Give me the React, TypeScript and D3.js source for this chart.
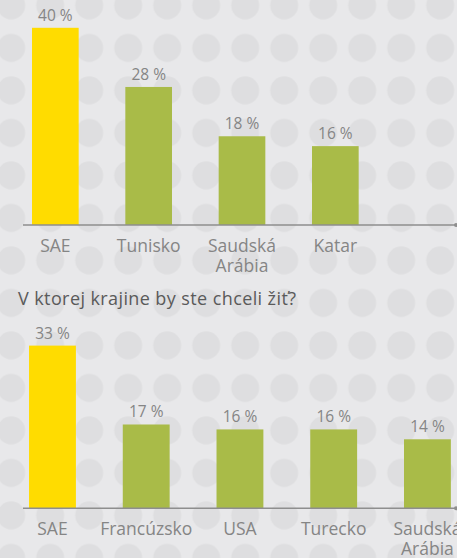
import React from "react";
import * as d3 from "d3";

const W = 457;
const H = 558;

const cats1 = ["SAE", "Tunisko", "Saudská Arábia", "Katar"];
const vals1 = [40, 28, 18, 16];
const cats2 = ["SAE", "Francúzsko", "USA", "Turecko", "Saudská Arábia"];
const vals2 = [33, 17, 16, 16, 14];
const highlight = "SAE";
const title2 = "V ktorej krajine by ste chceli žiť?";

const YELLOW = "#FFDC00";
const GREEN = "#A9BB48";
const BG = "#E8E8EA";
const DOT = "#DEDEE0";
const AXIS = "#8E8E8E";
const TXT = "#858585";
const FONT = "'Open Sans', sans-serif";

function Chart({ cats, vals, range, base, ppu }: { cats: string[]; vals: number[]; range: [number, number]; base: number; ppu: number }) {
  const x = d3.scaleBand<string>().domain(cats).range(range).paddingInner(0.5).paddingOuter(0.25);
  const maxV = d3.max(vals) as number;
  const y = d3.scaleLinear().domain([0, maxV]).range([base, base - maxV * ppu]);
  return (
    <g>
      {cats.map((c, i) => {
        const bx = x(c) as number;
        const bw = x.bandwidth();
        const cx = bx + bw / 2;
        const lines = c.split(" ");
        return (
          <g key={c}>
            <rect x={bx} y={y(vals[i])} width={bw} height={base - y(vals[i])} fill={c === highlight ? YELLOW : GREEN} />
            <text x={cx} y={y(vals[i]) - 7} textAnchor="middle" fontSize={15.5} fill={TXT} fontFamily={FONT}>
              {vals[i]} %
            </text>
            {lines.map((l, j) => (
              <text key={j} x={cx} y={base + 27 + j * 20} textAnchor="middle" fontSize={17.5} fill={TXT} fontFamily={FONT}>
                {l}
              </text>
            ))}
          </g>
        );
      })}
      <line x1={23} x2={456} y1={base} y2={base} stroke={AXIS} strokeWidth={1.4} />
      <circle cx={456} cy={base} r={2} fill={AXIS} />
    </g>
  );
}

export default function App() {
  return (
    <svg width={W} height={H} style={{ position: "absolute", left: 0, top: 0 }}>
      <defs>
        <pattern id="dots" patternUnits="userSpaceOnUse" x={-8.3} y={-15.8} width={39} height={42.5}>
          <circle cx={19.5} cy={21.25} r={14} fill={DOT} />
        </pattern>
      </defs>
      <rect width={W} height={H} fill={BG} />
      <rect width={W} height={H} fill="url(#dots)" />
      <Chart cats={cats1} vals={vals1} range={[8.67, 382]} base={225} ppu={4.93} />
      <text x={18} y={304.5} fontSize={18} fill="#5A5A5A" fontFamily={FONT} textLength={278} lengthAdjust="spacing">
        {title2}
      </text>
      <Chart cats={cats2} vals={vals2} range={[5.6, 474.3]} base={508.3} ppu={4.93} />
    </svg>
  );
}
